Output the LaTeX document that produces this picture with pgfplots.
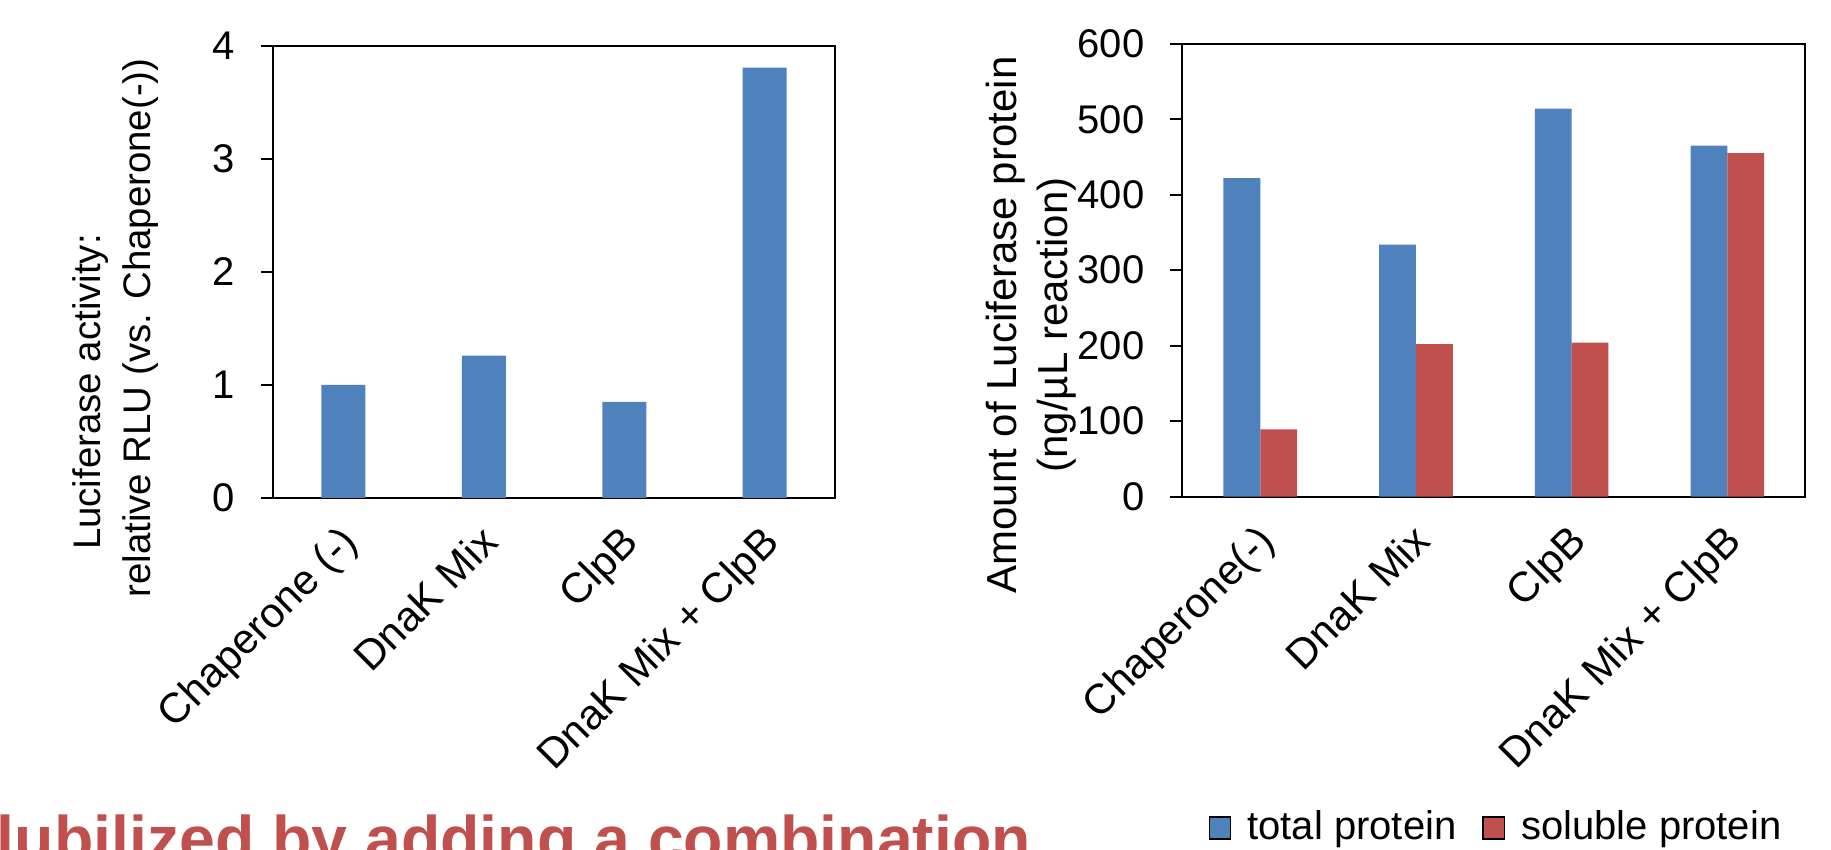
\documentclass[border=0pt]{standalone}
\usepackage{fontspec}
\setmainfont{Liberation Sans}
\usepackage{pgfplots}
\pgfplotsset{compat=1.18}
\definecolor{cblue}{RGB}{79,129,189}
\definecolor{cred}{RGB}{192,80,77}
\begin{document}
\begin{tikzpicture}
\path[use as bounding box] (0,0) rectangle (457.75pt,212.25pt);
\pgfplotsset{
  mystyle/.style={
    scale only axis,
    anchor=south west,
    axis line style={black, line width=0.5pt},
    every tick/.style={black, line width=0.5pt},
    ytick pos=left,
    tick align=outside,
    major tick length=3pt,
    xtick style={draw=none},
    xmin=-0.5, xmax=3.5,
    xtick={0,1,2,3},
    ymin=0,
    /pgf/number format/assume math mode=true,
    tick label style={font=\fontsize{10}{12}\selectfont},
    yticklabel style={xshift=-3pt},
    xticklabel style={xshift=-1.3pt, yshift=-3.1pt, rotate=45, anchor=north east, inner sep=0pt, font=\fontsize{10.5}{12}\selectfont},
    ylabel style={anchor=center, align=center},
  }
}
\begin{axis}[mystyle,
  at={(68.25pt,87.8pt)},
  width=140.5pt, height=112.9pt,
  ymax=4, ytick={0,1,2,3,4},
  xticklabels={Chaperone (-), DnaK Mix, ClpB, DnaK Mix + ClpB},
  ylabel={Luciferase activity:\hspace*{32pt}\\relative RLU (vs. Chaperone(-))},
  ylabel style={at={(axis description cs:-0.281,0.376)}, font=\fontsize{9.6}{12.5}\selectfont},
]
\addplot[ybar, fill=cblue, draw=none, bar width=11pt] coordinates {(0,1.0) (1,1.26) (2,0.85) (3,3.81)};
\end{axis}
\begin{axis}[mystyle,
  at={(295.6pt,88.1pt)},
  width=155.7pt, height=113.2pt,
  ymax=600, ytick={0,100,...,600},
  xticklabels={Chaperone(-), DnaK Mix, ClpB, DnaK Mix + ClpB},
  ylabel={Amount of Luciferase protein\\(ng/µL reaction)},
  ylabel style={at={(axis description cs:-0.243,0.379)}, font=\fontsize{10.5}{12.8}\selectfont},
  legend image code/.code={\draw[#1] (0pt,-2.7pt) rectangle (5.3pt,2.7pt);},
  legend columns=2,
  legend style={at={(axis description cs:0.976,-0.732)}, anchor=east, draw=none, fill=none, inner sep=0pt,
    font=\fontsize{10}{12}\selectfont,
    /tikz/every odd column/.append style={column sep=2pt},
    /tikz/every even column/.append style={column sep=4.5pt}},
]
\addplot[ybar, fill=cblue, draw=none, bar width=9.2pt, bar shift=-4.6pt] coordinates {(0,422) (1,334) (2,514) (3,465)};
\addlegendentry{total protein}
\addplot[ybar, fill=cred, draw=none, bar width=9.2pt, bar shift=4.6pt] coordinates {(0,89) (1,202) (2,204) (3,455)};
\addlegendentry{soluble protein}
\end{axis}
\begin{scope}
\clip (0,0) rectangle (457.75pt,212.25pt);
\node[anchor=base west, inner sep=0pt, text=cred, font=\bfseries\fontsize{16.1}{19}\selectfont] at (-1pt,-3pt) {lubilized by adding a combination};
\end{scope}
\end{tikzpicture}
\end{document}
